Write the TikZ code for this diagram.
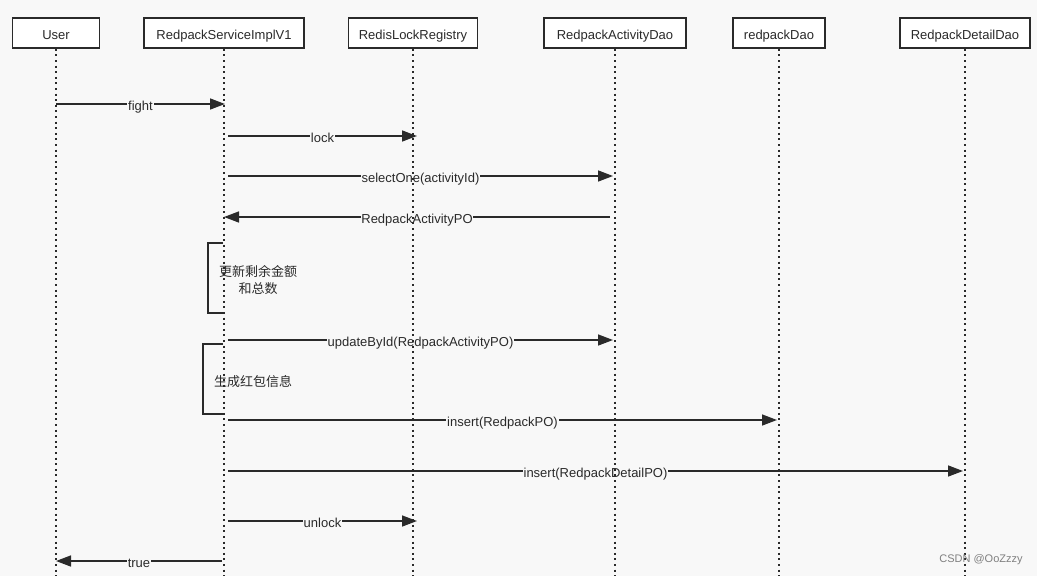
\documentclass[tikz,border=0pt]{standalone}
\usepackage{fontspec}
\setmainfont{Liberation Sans}
\newfontfamily\cjk{Noto Sans CJK SC}
\usetikzlibrary{arrows.meta}
\definecolor{bg}{HTML}{F8F8F8}
\definecolor{ink}{HTML}{2A2A2A}
\begin{document}
\begin{tikzpicture}[x=1pt,y=-1pt,
 actor/.style={draw=ink, line width=1.6pt, fill=white, minimum height=30pt, inner sep=0pt, text height=14pt, text depth=0.7pt, font=\fontsize{13}{15}\selectfont, text=ink},
 lifeline/.style={draw=ink, line width=1.7pt, dash pattern=on 2pt off 3.6pt},
 msg/.style={draw=ink, line width=1.5pt, -{Triangle[length=15pt,width=11pt]}},
 lbl/.style={fill=bg, inner sep=0.8pt, text height=9.5pt, text depth=2.7pt, yshift=-2.8pt, font=\fontsize{13}{15}\selectfont, text=ink},
 brk/.style={draw=ink, line width=1.6pt},
 note/.style={font=\cjk\fontsize{13}{17}\selectfont, text=ink, align=center}]
\fill[bg] (0,0) rectangle (1037,576);
\useasboundingbox (0,0) rectangle (1037,576);
% actors
\node[actor, minimum width=87pt]  (user)     at (56,33)  {User};
\node[actor, minimum width=160pt] (service)  at (224,33) {RedpackServiceImplV1};
\node[actor, minimum width=129pt] (registry) at (413,33) {RedisLockRegistry};
\node[actor, minimum width=142pt] (activity) at (615,33) {RedpackActivityDao};
\node[actor, minimum width=92pt]  (rdao)     at (779,33) {redpackDao};
\node[actor, minimum width=130pt] (detail)   at (965,33) {RedpackDetailDao};
% lifeline ends
\coordinate (userE) at (56,576);
\coordinate (serviceE) at (224,576);
\coordinate (registryE) at (413,576);
\coordinate (activityE) at (615,576);
\coordinate (rdaoE) at (779,576);
\coordinate (detailE) at (965,576);
% message endpoints
\coordinate (m1a) at (56,104);  \coordinate (m1b) at (225,104);
\coordinate (m2a) at (228,136); \coordinate (m2b) at (417,136);
\coordinate (m3a) at (228,176); \coordinate (m3b) at (613,176);
\coordinate (m4a) at (610,217); \coordinate (m4b) at (224,217);
\coordinate (m5a) at (228,340); \coordinate (m5b) at (613,340);
\coordinate (m6a) at (228,420); \coordinate (m6b) at (777,420);
\coordinate (m7a) at (228,471); \coordinate (m7b) at (963,471);
\coordinate (m8a) at (228,521); \coordinate (m8b) at (417,521);
\coordinate (m9a) at (222,561); \coordinate (m9b) at (56,561);
% brackets
\draw[brk] (223,243) -- (208,243) -- (208,313) -- (223,313);
\draw[brk] (223,344) -- (203,344) -- (203,414) -- (223,414);
\node[note] (n1) at (258,280) {更新剩余金额\\和总数};
\node[note] (n2) at (253,381.5) {生成红包信息};
% messages
\draw[msg] (m1a) -- node[lbl] (l1) {fight} (m1b);
\draw[msg] (m2a) -- node[lbl] (l2) {lock} (m2b);
\draw[msg] (m3a) -- node[lbl] (l3) {selectOne(activityId)} (m3b);
\draw[msg] (m4a) -- node[lbl] (l4) {RedpackActivityPO} (m4b);
\draw[msg] (m5a) -- node[lbl] (l5) {updateById(RedpackActivityPO)} (m5b);
\draw[msg] (m6a) -- node[lbl] (l6) {insert(RedpackPO)} (m6b);
\draw[msg] (m7a) -- node[lbl] (l7) {insert(RedpackDetailPO)} (m7b);
\draw[msg] (m8a) -- node[lbl] (l8) {unlock} (m8b);
\draw[msg] (m9a) -- node[lbl] (l9) {true} (m9b);
% lifelines
\draw[lifeline] (user.south) -- (userE);
\draw[lifeline] (service.south) -- (serviceE);
\draw[lifeline] (registry.south) -- (registryE);
\draw[lifeline] (activity.south) -- (activityE);
\draw[lifeline] (rdao.south) -- (rdaoE);
\draw[lifeline] (detail.south) -- (detailE);
% watermark
\node[font=\fontsize{11}{12}\selectfont, text=black!50] (wm) at (981,560) {CSDN @OoZzzy};
\end{tikzpicture}
\end{document}
